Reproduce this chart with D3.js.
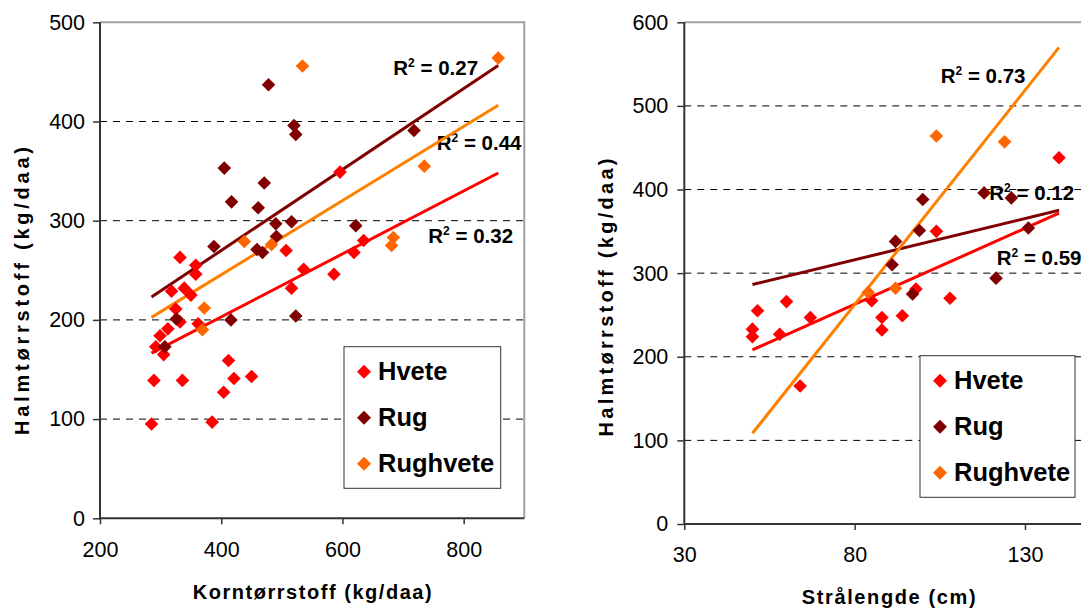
<!DOCTYPE html>
<html><head><meta charset="utf-8">
<script src="https://cdn.jsdelivr.net/npm/d3@7"></script>
<style>
html,body{margin:0;padding:0;background:#fff;overflow:hidden}
svg{display:block}
text{font-family:"Liberation Sans",Arial,Helvetica,sans-serif;fill:#000}
</style></head><body>
<svg id="chart" width="1081" height="609"></svg>
<script>
// ---------- DATA ----------
const seriesNames = ["Hvete", "Rug", "Rughvete"];

// Panel A: Korntørrstoff (x) vs Halmtørrstoff (y), kg/daa
const hveteKorn  = [596,635,507,332,358,358,536,586,619,318,339,350,516,325,332,362,312,299,292,305,412,289,336,421,450,404,285,385];
const hveteHalmA = [349,280,270,263,255,246,251,246,268,229,232,225,232,211,198,196,191,184,173,165,159,139,139,141,143,127,95,97];
const rugKorn    = [478,520,523,718,405,471,417,461,490,516,622,491,459,468,388,326,416,523,307];
const rugHalmA   = [437,396,387,391,353,338,319,313,297,299,295,284,271,268,274,201,200,204,173];
const rughveteKorn  = [534,857,735,438,483,684,681,372,369];
const rughveteHalmA = [456,464,355,279,276,283,275,212,190];
const r2LabelsA = ["0.32", "0.27", "0.44"];
const xTicksA = [200, 400, 600, 800];
const yTicksA = [0, 100, 200, 300, 400, 500];

// Panel B: Strålengde (cm) (x) vs Halmtørrstoff (y)
const hveteStraa = [140,104,85,98,108,88,94,88,51.5,60,67,50,50,58,64];
const hveteHalmB = [438,350,267,281,270,247,249,232,255,266,247,233,224,227,165];
const rugStraa   = [100,118,126,99,131,92,91,121.5,97];
const rugHalmB   = [388,396,390,351,354,338,310,294,275];
const rughveteStraa = [84,92,104,124];
const rughveteHalmB = [277,282,464,457];
const r2LabelsB = ["0.59", "0.12", "0.73"];
const xTicksB = [30, 80, 130];
const yTicksB = [0, 100, 200, 300, 400, 500, 600];

const yTitle = "Halmtørrstoff (kg/daa)";
const xTitleA = "Korntørrstoff (kg/daa)";
const xTitleB = "Strålengde (cm)";

// ---------- STYLE ----------
const markerColors = ["#FF0000", "#800000", "#FF6600"];
const lineColors   = ["#FF0000", "#800000", "#FF8000"];
const FONT_TICK = 21.5, FONT_R2 = 20.5, FONT_LEG = 25.5, FONT_TITLE = 20;

const svg = d3.select("#chart");

function diamond(r) { return `M0,${-r}L${r},0L0,${r}L${-r},0Z`; }

function regress(xs, ys) {
  const n = xs.length, mx = d3.mean(xs), my = d3.mean(ys);
  let sxy = 0, sxx = 0;
  for (let i = 0; i < n; i++) { sxy += (xs[i]-mx)*(ys[i]-my); sxx += (xs[i]-mx)**2; }
  const b = sxy / sxx;
  return { b, a: my - b*mx };
}

function panel(cfg) {
  const g = svg.append("g");
  const x = d3.scaleLinear().domain(cfg.xDomain).range(cfg.xRange);
  const y = d3.scaleLinear().domain(cfg.yDomain).range(cfg.yRange);
  const [x0, x1] = cfg.xRange, [yb, yt] = cfg.yRange;

  // dashed gridlines
  g.selectAll("line.grid").data(cfg.yTicks.filter(v => v > cfg.yDomain[0] && v < cfg.yDomain[1]))
    .join("line").attr("class","grid")
    .attr("x1", x0).attr("x2", x1).attr("y1", d => y(d)).attr("y2", d => y(d))
    .attr("stroke", "#000").attr("stroke-width", 1).attr("stroke-dasharray", "7,6");

  // top/right border
  g.append("path").attr("d", `M${x0},${yt}H${x1}V${yb}`)
    .attr("fill","none").attr("stroke","#a0a0a0").attr("stroke-width",2);

  // axes
  const ya = d3.axisLeft(y).tickValues(cfg.yTicks).tickSize(7).tickPadding(cfg.yPad).tickFormat(d3.format("d"));
  const gy = g.append("g").attr("transform", `translate(${x0},0)`).call(ya);
  const xa = d3.axisBottom(x).tickValues(cfg.xTicks).tickSize(6).tickPadding(cfg.xPad).tickFormat(d3.format("d"));
  const gx = g.append("g").attr("transform", `translate(0,${yb})`).call(xa);
  [gy, gx].forEach(a => {
    a.select(".domain").remove();
    a.selectAll(".tick line").attr("stroke", "#333").attr("stroke-width", 1.5);
    a.selectAll(".tick text").attr("font-size", FONT_TICK)
      .attr("font-family", '"Liberation Sans",Arial,sans-serif').attr("fill", "#000");
  });
  g.append("path").attr("d", `M${x0},${yt}V${yb}H${x1}`)
    .attr("fill","none").attr("stroke","#333").attr("stroke-width",2);

  // axis titles
  g.append("text").attr("x", (x0 + x1) / 2).attr("y", cfg.xTitleY)
    .attr("text-anchor","middle").attr("font-size", FONT_TITLE).attr("font-weight","bold")
    .attr("textLength", cfg.xTitleLen).attr("lengthAdjust","spacing").text(cfg.xTitle);
  g.append("text").attr("transform", `translate(${cfg.yTitleX},${cfg.yTitleY}) rotate(-90)`)
    .attr("text-anchor","middle").attr("font-size", FONT_TITLE).attr("font-weight","bold")
    .attr("textLength", cfg.yTitleLen).attr("lengthAdjust","spacing").text(yTitle);

  // R² labels
  cfg.series.forEach((s, i) => {
    const t = g.append("text").attr("x", cfg.r2Pos[i][0]).attr("y", cfg.r2Pos[i][1])
      .attr("font-size", FONT_R2).attr("font-weight","bold");
    t.append("tspan").text("R");
    t.append("tspan").attr("font-size", 12).attr("dy", -8).text("2");
    t.append("tspan").attr("dy", 8).text(" = " + cfg.r2[i]);
  });

  // trendlines spanning the full x-range of the panel's data
  const allX = cfg.series.flatMap(s => s.x);
  const xmin = d3.min(allX), xmax = d3.max(allX);
  cfg.series.forEach((s, i) => {
    const { a, b } = regress(s.x, s.y);
    g.append("line")
      .attr("x1", x(xmin)).attr("y1", y(a + b*xmin))
      .attr("x2", x(xmax)).attr("y2", y(a + b*xmax))
      .attr("stroke", lineColors[i]).attr("stroke-width", 3);
  });

  // markers
  cfg.series.forEach((s, i) => {
    g.append("g").selectAll("path").data(d3.range(s.x.length)).join("path")
      .attr("transform", k => `translate(${x(s.x[k])},${y(s.y[k])})`)
      .attr("d", diamond(6.8)).attr("fill", markerColors[i]);
  });

  // legend
  const L = cfg.legend;
  const lg = g.append("g");
  lg.append("rect").attr("x", L.x).attr("y", L.y).attr("width", L.w).attr("height", L.h)
    .attr("fill","#fff").attr("stroke","#333").attr("stroke-width",1);
  seriesNames.forEach((n, i) => {
    const cy = L.y + 25 + i * 46;
    lg.append("path").attr("transform", `translate(${L.x + 20},${cy})`).attr("d", diamond(7)).attr("fill", markerColors[i]);
    lg.append("text").attr("x", L.x + 34).attr("y", cy + 8.5)
      .attr("font-size", FONT_LEG).attr("font-weight","bold").text(n);
  });
}

panel({
  xDomain: [200, 900], xRange: [100, 524.3],
  yDomain: [0, 500], yRange: [518.3, 22.3],
  xTicks: xTicksA, yTicks: yTicksA, xPad: 17, yPad: 8,
  series: [
    { x: hveteKorn, y: hveteHalmA },
    { x: rugKorn, y: rugHalmA },
    { x: rughveteKorn, y: rughveteHalmA }
  ],
  r2: r2LabelsA,
  r2Pos: [[428.3, 242.7], [393.3, 75], [436.7, 150]],
  legend: { x: 344, y: 346.7, w: 156.7, h: 141.6 },
  xTitle: xTitleA, xTitleY: 598.5, xTitleLen: 239,
  yTitleX: 28.5, yTitleY: 291, yTitleLen: 288
});

panel({
  xDomain: [30, 150], xRange: [684.3, 1093.1],
  yDomain: [0, 600], yRange: [524, 22.3],
  xTicks: xTicksB, yTicks: yTicksB, xPad: 17, yPad: 9,
  series: [
    { x: hveteStraa, y: hveteHalmB },
    { x: rugStraa, y: rugHalmB },
    { x: rughveteStraa, y: rughveteHalmB }
  ],
  r2: r2LabelsB,
  r2Pos: [[996.7, 265], [989.3, 200], [940.7, 82.7]],
  legend: { x: 920, y: 355.7, w: 155, h: 141.6 },
  xTitle: xTitleB, xTitleY: 603.5, xTitleLen: 174,
  yTitleX: 613, yTitleY: 297.5, yTitleLen: 278
});
</script>
</body></html>
